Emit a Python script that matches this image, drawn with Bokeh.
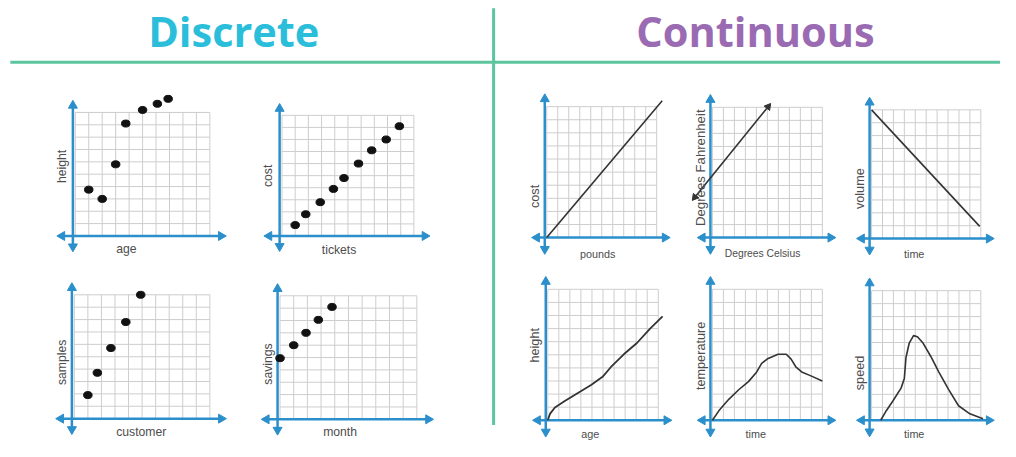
import math
from bokeh.plotting import figure
from bokeh.models import Range1d
from bokeh.core.properties import value
from bokeh.embed import file_html
from bokeh.resources import INLINE

# ---------------- data ----------------
titles = ["Discrete", "Continuous"]

d_age = [1.0, 2.0, 3.0, 3.75, 5.0, 6.1, 6.9]
d_height = [3.75, 3.0, 5.8, 9.1, 10.2, 10.7, 11.1]

d_tickets = [1.0, 1.8, 2.9, 3.9, 4.7, 5.8, 6.8, 7.9, 8.9]
d_cost = [0.9, 1.8, 2.8, 3.9, 4.8, 6.0, 7.1, 8.0, 9.1]

d_customer = [1.0, 1.7, 2.7, 3.8, 4.9]
d_samples = [1.9, 3.7, 5.7, 7.8, 10.0]

d_month = [0.0, 1.0, 1.9, 2.8, 3.8]
d_savings = [4.95, 6.0, 7.0, 8.05, 9.1]

c_pounds = [0.0, 10.5]
c_cost = [0.0, 10.45]

c_celsius = [-1.6, 5.07]
c_fahrenheit = [3.1, 10.05]

c_time_vol = [0.0, 9.9]
c_volume = [10.0, 0.95]

c_age = [0.0, 0.2, 0.65, 1.54, 2.73, 3.92, 4.96, 5.7, 6.88, 8.07, 9.26, 10.39]
c_height = [0.0, 0.49, 0.98, 1.47, 2.09, 2.7, 3.32, 4.05, 5.04, 5.9, 7.0, 7.94]

c_time_temp = [0.0, 0.6, 1.49, 2.39, 3.28, 4.03, 4.48, 5.07, 5.97, 6.72, 7.16, 7.61, 8.12, 8.96, 10.0]
c_temperature = [0.0, 0.74, 1.6, 2.33, 2.95, 3.69, 4.35, 4.72, 5.04, 5.04, 4.67, 4.05, 3.69, 3.39, 3.0]

c_time_speed = [0.84, 1.35, 1.95, 2.7, 3.0, 3.15, 3.45, 3.84, 4.2, 4.71, 5.4, 6.16, 7.06, 7.96, 9.0, 10.2]
c_speed = [0.0, 0.74, 1.49, 2.48, 3.23, 4.84, 5.96, 6.53, 6.45, 5.96, 4.96, 3.72, 2.36, 1.12, 0.5, 0.12]

# ---------------- style ----------------
TEAL = "#2bbedb"
PURPLE = "#9a6bb3"
DIVIDER = "#5cc49e"
AXIS = "#2b8fcb"
GRID = "#cdcdcd"
INK = "#111111"
CURVE = "#333333"
LABEL = "#4d4d4d"
LFONT = value("Liberation Sans")

p = figure(width=1000, height=441, x_range=Range1d(0, 1016), y_range=Range1d(457, 0),
           x_axis_type=None, y_axis_type=None, output_backend="svg",
           toolbar_location=None, min_border=0)
p.grid.visible = False
p.outline_line_color = None

# dividers
p.segment(x0=[10, 501], y0=[64, 8], x1=[1016, 501], y1=[64, 440],
          line_color=DIVIDER, line_width=3)

# titles
p.text(x=[237, 767], y=[32, 32], text=titles, text_color=[TEAL, PURPLE],
       text_font=value("Open Sans"), text_font_style="bold", text_font_size="41.5px",
       text_align="center", text_baseline="middle")


def panel(L, R, B, T):
    sp = p.subplot(x_source=Range1d(0, 10), y_source=Range1d(0, 10),
                   x_target=Range1d(L, R), y_target=Range1d(B, T))
    t = list(range(11))
    sp.segment(x0=t, y0=[0] * 11, x1=t, y1=[10] * 11, line_color=GRID, line_width=1)
    sp.segment(x0=[0] * 11, y0=t, x1=[10] * 11, y1=t, line_color=GRID, line_width=1)
    ux = 10.0 / (R - L)
    uy = 10.0 / (B - T)
    yax = -0.18
    xmin, xmax = -1.35 + 5 * ux, 11.2 - 5 * ux
    ymin, ymax = -1.25 + 5 * uy, 10.95 - 5 * uy
    sp.segment(x0=[xmin, yax], y0=[0, ymin], x1=[xmax, yax], y1=[0, ymax],
               line_color=AXIS, line_width=2.5)
    sp.scatter(x=[xmin, xmax, yax, yax], y=[0, 0, ymin, ymax], marker="triangle",
               angle=[math.pi / 2, -math.pi / 2, math.pi, 0], size=9,
               fill_color=AXIS, line_color=AXIS)
    return sp


def labels(ylab, ypos, xlab, xpos, ysize="12.2px", xsize="12.2px"):
    p.text(x=[ypos[0]], y=[ypos[1]], text=[ylab], angle=math.pi / 2, text_font=LFONT,
           text_font_size=ysize, text_color=LABEL, text_align="center", text_baseline="middle")
    p.text(x=[xpos[0]], y=[xpos[1]], text=[xlab], text_font=LFONT,
           text_font_size=xsize, text_color=LABEL, text_align="center", text_baseline="middle")


def dots(sp, xs, ys):
    sp.ellipse(x=xs, y=ys, width=8.5, height=7, width_units="screen", height_units="screen",
               fill_color=INK, line_color=INK)


# ---- discrete ----
s1 = panel(76, 212.7, 244, 116)
dots(s1, d_age, d_height)
labels("height", (62, 172), "age", (128, 258))

s2 = panel(286, 420, 244, 119)
dots(s2, d_tickets, d_cost)
labels("cost", (271.7, 181.7), "tickets", (344, 259))

s3 = panel(75, 212.7, 433.3, 305)
dots(s3, d_customer, d_samples)
labels("samples", (62, 375), "customer", (143, 447))

s4 = panel(284, 423, 434, 306)
dots(s4, d_month, d_savings)
labels("savings", (271.7, 376.7), "month", (345, 447))

# ---- continuous ----
CS = dict(ysize="12.7px", xsize="10.8px")
s5 = panel(555, 666.7, 245.7, 110)
s5.line(c_pounds, c_cost, line_color=CURVE, line_width=1.6)
labels("cost", (543.3, 203), "pounds", (606.7, 262.5), **CS)

L6, R6, B6, T6 = 723.3, 835, 245.7, 110.7
s6 = panel(L6, R6, B6, T6)
s6.line(c_celsius, c_fahrenheit, line_color=CURVE, line_width=1.6)
dxp = (c_celsius[1] - c_celsius[0]) * (R6 - L6) / 10
dyp = (c_fahrenheit[1] - c_fahrenheit[0]) * (B6 - T6) / 10
th = math.atan2(dyp, dxp)
s6.scatter(x=c_celsius, y=c_fahrenheit, marker="triangle", size=7,
           angle=[th + math.pi / 2, th - math.pi / 2], fill_color=CURVE, line_color=CURVE)
labels("Degrees Fahrenheit", (711.7, 173.3), "Degrees Celsius", (774.2, 262.5),
       ysize="13.2px", xsize="10.3px")

s7 = panel(885, 996, 246.7, 113.3)
s7.line(c_time_vol, c_volume, line_color=CURVE, line_width=1.6)
labels("volume", (873.3, 195), "time", (928.3, 262.5), **CS)

s8 = panel(556, 668.3, 435, 299.3)
s8.line(c_age, c_height, line_color=CURVE, line_width=1.8)
labels("height", (543.3, 357.3), "age", (599.3, 449), **CS)

s9 = panel(723.3, 835, 435, 299.3)
s9.line(c_time_temp, c_temperature, line_color=CURVE, line_width=1.6)
labels("temperature", (711.7, 368.3), "time", (767.3, 449), **CS)

s10 = panel(885, 996, 435, 300.7)
s10.line(c_time_speed, c_speed, line_color=CURVE, line_width=1.6)
labels("speed", (873.3, 386), "time", (928.3, 449), **CS)

open("out.html", "w").write(file_html(p, INLINE))
